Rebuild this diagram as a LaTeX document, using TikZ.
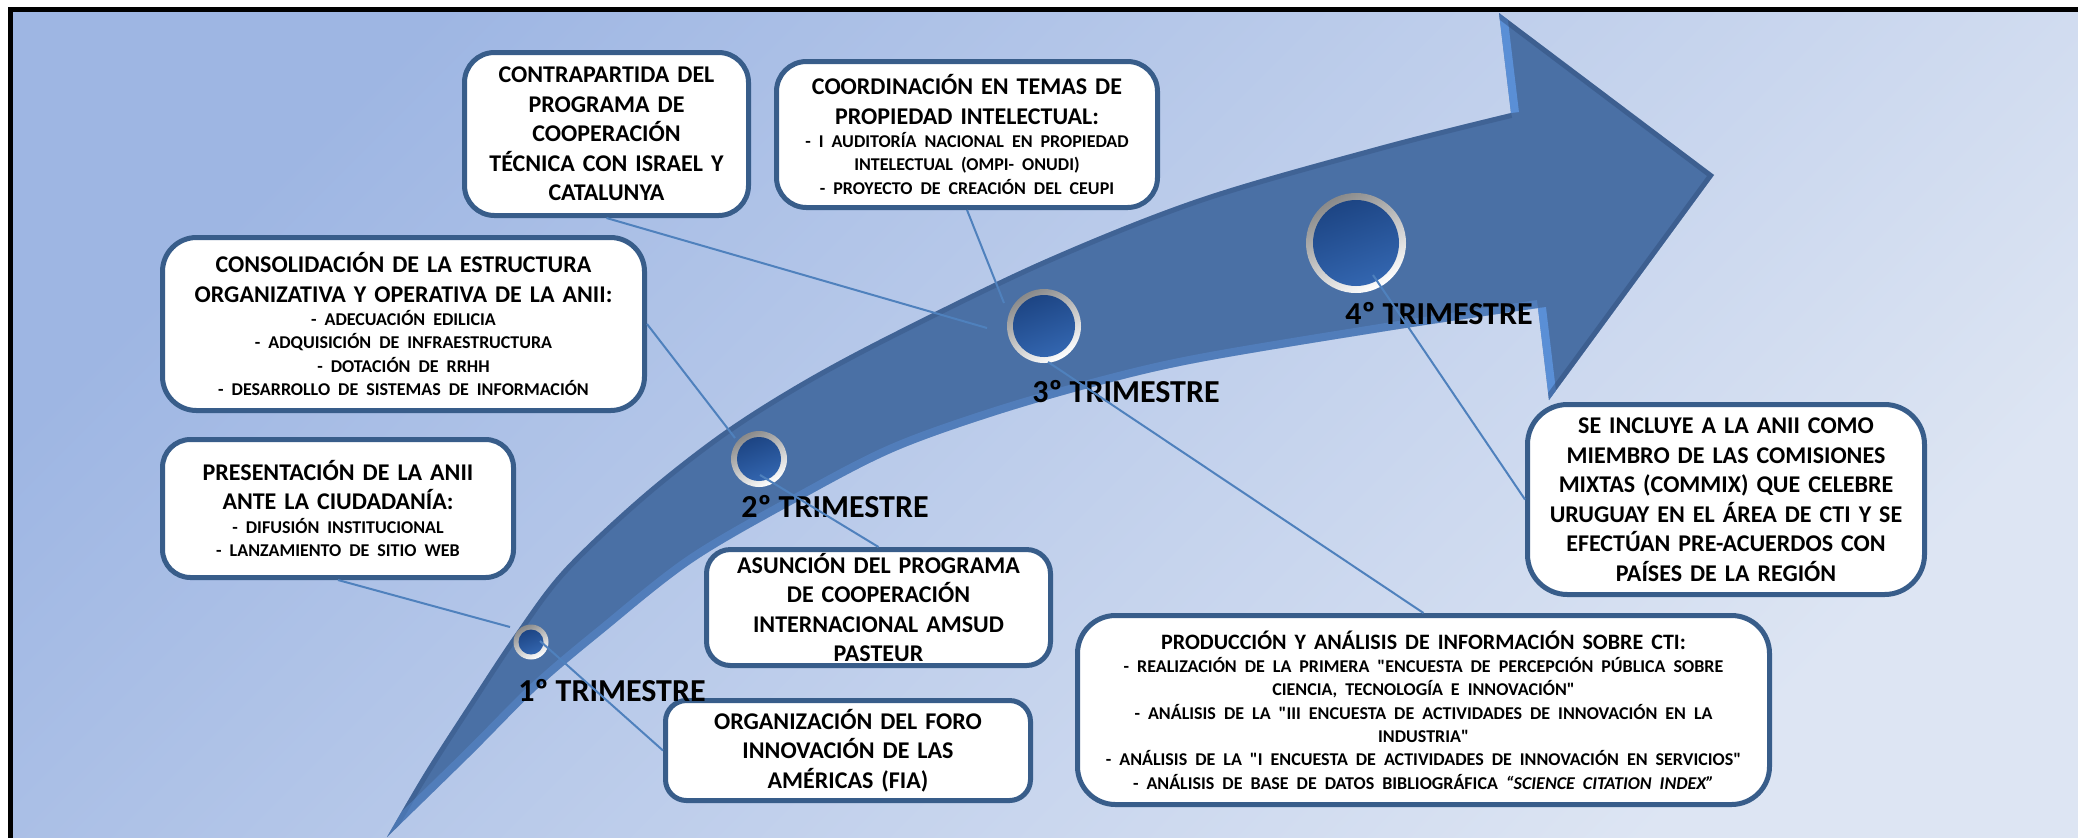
\documentclass[tikz,border=0pt]{standalone}
\usepackage{fontspec}
\setmainfont{Carlito}[Ligatures=TeXOff]
\usetikzlibrary{calc}
\definecolor{bgUL}{HTML}{9EB6E3}
\definecolor{bgLR}{HTML}{DDE5F3}
\definecolor{arrowc}{HTML}{4A70A5}
\definecolor{arrowlight}{HTML}{5F97E3}
\definecolor{arrowdark}{HTML}{2E4B78}
\definecolor{boxc}{HTML}{385D8A}
\definecolor{linec}{HTML}{4F81BD}
\definecolor{dotdark}{HTML}{1D4584}
\definecolor{dotlight}{HTML}{3366B0}
\definecolor{ringdark}{HTML}{8A8A8A}
\newcommand{\HdFont}{\fontsize{12}{14.75}\selectfont}
\newcommand{\SbFont}{\fontsize{9}{11.65}\selectfont}
\tikzset{
  box/.style={draw=boxc, line width=2.5pt, fill=white, inner sep=0pt, font=\bfseries\HdFont},
  conn/.style={draw=linec, line width=1pt},
  trim/.style={font=\bfseries\fontsize{16}{19}\selectfont, inner sep=0pt},
  ring/.style={circle, inner sep=0pt, top color=ringdark, bottom color=white, shading angle=30},
  core/.style={circle, inner sep=0pt, top color=dotdark, bottom color=dotlight, shading angle=20},
}
\begin{document}
\begin{tikzpicture}[x=0.5pt,y=-0.5pt]
\useasboundingbox (0,0) rectangle (2078,837);
\fill[white] (0,0) rectangle (2078,837);
\shade[top color=bgUL, bottom color=bgLR, shading angle=45] (10,10) rectangle (2078,837);
\draw[black, line width=2.6pt] (10.5,845) -- (10.5,9.8) -- (2085,9.8);

% arrow
\coordinate (H1) at (1499,13);
\coordinate (Tip) at (1714,175);
\coordinate (H2) at (1549,400);
\coordinate (N1) at (1511,113);
\coordinate (N2) at (1538,308);
\fill[arrowc] plot[smooth,tension=0.55] coordinates {(387,837) (425,772) (470,702) (515,634) (563,570) (640,497) (720,434) (800,383) (893,333) (1044,260) (1200,198) (1380,146) (1511,113)}
  -- (H1) -- (Tip) -- (H2) -- (N2)
  -- plot[smooth,tension=0.55] coordinates {(1538,308) (1380,332) (1200,362) (1100,385) (993,416) (893,452) (800,500) (693,562) (603,633) (537,689) (470,756) (387,837)} -- cycle;
\begin{scope}
  \clip plot[smooth,tension=0.55] coordinates {(387,837) (425,772) (470,702) (515,634) (563,570) (640,497) (720,434) (800,383) (893,333) (1044,260) (1200,198) (1380,146) (1511,113)}
  -- (H1) -- (Tip) -- (H2) -- (N2)
  -- plot[smooth,tension=0.55] coordinates {(1538,308) (1380,332) (1200,362) (1100,385) (993,416) (893,452) (800,500) (693,562) (603,633) (537,689) (470,756) (387,837)} -- cycle;
  \draw[arrowdark, line width=5pt, opacity=0.35] plot[smooth,tension=0.55] coordinates {(387,837) (425,772) (470,702) (515,634) (563,570) (640,497) (720,434) (800,383) (893,333) (1044,260) (1200,198) (1380,146) (1511,113)};
  \draw[arrowlight, line width=8pt, opacity=0.35] plot[smooth,tension=0.55] coordinates {(1538,308) (1380,332) (1200,362) (1100,385) (993,416) (893,452) (800,500) (693,562) (603,633) (537,689) (470,756) (387,837)};
  \draw[arrowlight, line width=8pt, opacity=0.8] (N1) -- (H1);
  \draw[arrowlight, line width=8pt, opacity=0.8] (N2) -- (H2);
  \draw[arrowdark, line width=5pt, opacity=0.45] (H1) -- (Tip) -- (H2);
\end{scope}

% boxes
\node[box, minimum width=142pt, minimum height=81.5pt, rounded corners=15pt, text width=136pt] (contra) at (606.5,134)
  {\centering CONTRAPARTIDA DEL\par PROGRAMA DE\par COOPERACIÓN\par TÉCNICA CON ISRAEL Y\par CATALUNYA\par};
\node[box, minimum width=190.5pt, minimum height=73pt, rounded corners=15pt, text width=184pt] (coord) at (967,134.5)
  {\centering COORDINACIÓN EN TEMAS DE\par PROPIEDAD INTELECTUAL:\par
   \SbFont - I AUDITORÍA NACIONAL EN PROPIEDAD\par INTELECTUAL (OMPI- ONUDI)\par - PROYECTO DE CREACIÓN DEL CEUPI\par\vspace{-4pt}};
\node[box, minimum width=241pt, minimum height=86.5pt, rounded corners=17pt, text width=235pt] (consol) at (403.5,324)
  {\centering CONSOLIDACIÓN DE LA ESTRUCTURA\par ORGANIZATIVA Y OPERATIVA DE LA ANII:\par
   \SbFont - ADECUACIÓN EDILICIA\par - ADQUISICIÓN DE INFRAESTRUCTURA\par - DOTACIÓN DE RRHH\par - DESARROLLO DE SISTEMAS DE INFORMACIÓN\par};
\node[box, minimum width=175.5pt, minimum height=69pt, rounded corners=14pt, text width=169pt] (pres) at (338,508.5)
  {\centering PRESENTACIÓN DE LA ANII\par ANTE LA CIUDADANÍA:\par
   \SbFont - DIFUSIÓN INSTITUCIONAL\par - LANZAMIENTO DE SITIO WEB\par};
\node[box, minimum width=172pt, minimum height=58pt, rounded corners=12pt, text width=166pt] (asun) at (878.5,607.5)
  {\centering ASUNCIÓN DEL PROGRAMA\par DE COOPERACIÓN\par INTERNACIONAL AMSUD\par PASTEUR\par\vspace{-3pt}};
\node[box, minimum width=182.5pt, minimum height=50pt, rounded corners=10.5pt, text width=176pt] (org) at (848,750.5)
  {\centering ORGANIZACIÓN DEL FORO\par INNOVACIÓN DE LAS\par AMÉRICAS (FIA)\par};
\node[box, minimum width=346pt, minimum height=94.5pt, rounded corners=19pt, text width=340pt] (prod) at (1423.5,710)
  {\centering\fontsize{11}{14.75}\selectfont PRODUCCIÓN Y ANÁLISIS DE INFORMACIÓN SOBRE CTI:\par
   \SbFont - REALIZACIÓN DE LA PRIMERA "ENCUESTA DE PERCEPCIÓN PÚBLICA SOBRE\par CIENCIA, TECNOLOGÍA E INNOVACIÓN"\par - ANÁLISIS DE LA "III ENCUESTA DE ACTIVIDADES DE INNOVACIÓN EN LA\par INDUSTRIA"\par - ANÁLISIS DE LA "I ENCUESTA DE ACTIVIDADES DE INNOVACIÓN EN SERVICIOS"\par - ANÁLISIS DE BASE DE DATOS BIBLIOGRÁFICA \textit{“SCIENCE CITATION INDEX”}\par};
\node[box, minimum width=198.5pt, minimum height=95pt, rounded corners=20pt, text width=192pt] (incl) at (1726,499.5)
  {\centering SE INCLUYE A LA ANII COMO\par MIEMBRO DE LAS COMISIONES\par MIXTAS (COMMIX) QUE CELEBRE\par URUGUAY EN EL ÁREA DE CTI Y SE\par EFECTÚAN PRE-ACUERDOS CON\par PAÍSES DE LA REGIÓN\par\vspace{-5pt}};

% connector end points near the dots
\coordinate (e1) at (510,627);
\coordinate (e3) at (735,438);
\coordinate (e5) at (987,328);
\coordinate (e6) at (1004,303);
\coordinate (s2) at (540,641);
\coordinate (s4) at (760,475);
\coordinate (s7) at (1048,362);
\coordinate (s8) at (1373,275);

\draw[conn] (pres.south) -- (e1);
\draw[conn] (consol.east) -- (e3);
\draw[conn] (contra.south) -- (e5);
\draw[conn] (coord.south) -- (e6);

% dots
\node[ring, minimum size=17.5pt] (d1) at (531,642) {};
\node[core, minimum size=12.5pt] (c1) at (d1) {};
\node[ring, minimum size=28pt] (d2) at (759,459) {};
\node[core, minimum size=22pt] (c2) at (d2) {};
\node[ring, minimum size=37pt] (d3) at (1044,326) {};
\node[core, minimum size=31pt] (c3) at (d3) {};
\node[ring, minimum size=50pt] (d4) at (1356,243) {};
\node[core, minimum size=43pt] (c4) at (d4) {};

% labels
\node[trim] (t1) at (612,691) {1º TRIMESTRE};
\node[trim] (t2) at (835,507) {2º TRIMESTRE};
\node[trim] (t3) at (1126,392) {3º TRIMESTRE};
\node[trim] (t4) at (1439,314) {4º TRIMESTRE};

\draw[conn] (s2) -- (org.west);
\draw[conn] (s4) -- (asun.north);
\draw[conn] (s7) -- (prod.north);
\draw[conn] (s8) -- (incl.west);
\end{tikzpicture}
\end{document}
